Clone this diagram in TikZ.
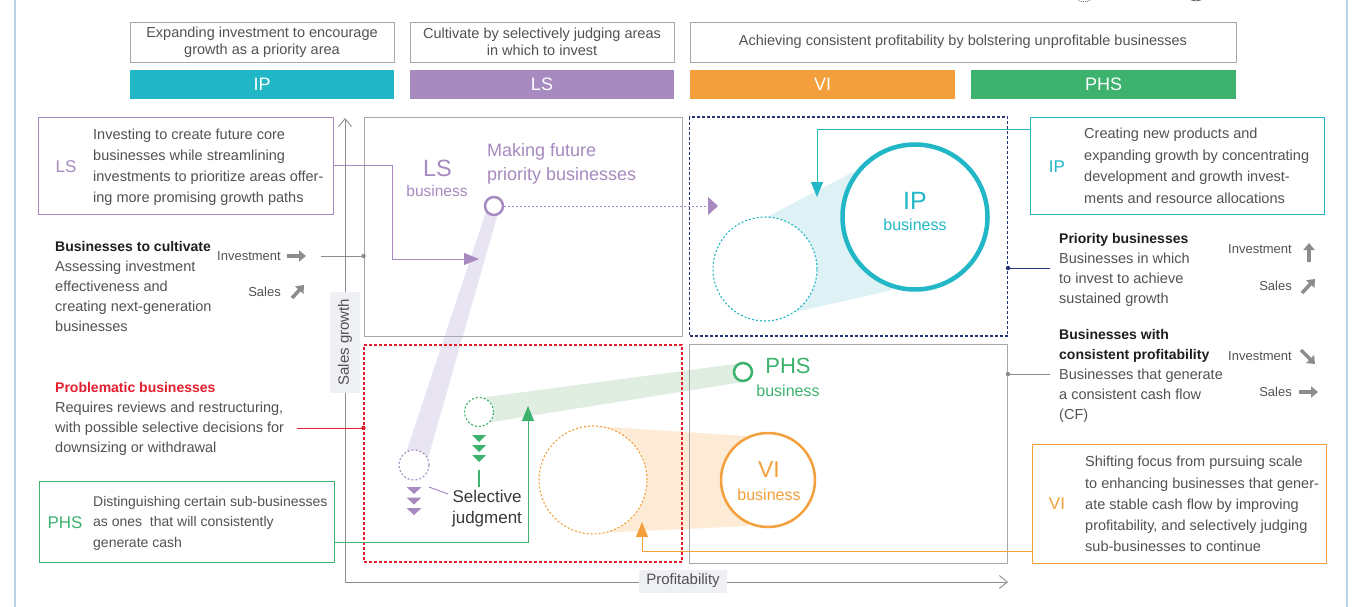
\documentclass[tikz,border=0pt]{standalone}
\usepackage{fontspec}
\setmainfont{Liberation Sans}
\usetikzlibrary{arrows.meta,calc}

\definecolor{ipc}{RGB}{34,183,198}
\definecolor{lsc}{RGB}{166,138,192}
\definecolor{vic}{RGB}{243,160,60}
\definecolor{phsc}{RGB}{60,178,110}
\definecolor{navy}{RGB}{40,52,120}
\definecolor{redc}{RGB}{228,30,45}
\definecolor{framegray}{RGB}{168,168,168}
\definecolor{txtgray}{RGB}{82,82,82}
\definecolor{headblack}{RGB}{30,30,30}
\definecolor{arrgray}{RGB}{140,140,140}
\definecolor{ipband}{RGB}{222,241,244}
\definecolor{lsband}{RGB}{232,228,242}
\definecolor{phsband}{RGB}{223,238,225}
\definecolor{viband}{RGB}{253,235,214}
\definecolor{labelbg}{RGB}{238,240,244}
\definecolor{edgeblue}{RGB}{185,208,232}

\tikzset{
  aimbox/.style={draw=framegray, line width=0.8pt, minimum height=40pt, align=center,
    inner sep=0pt, text=txtgray, font=\fontsize{14.5}{17}\selectfont},
  unitbar/.style={minimum height=29pt, inner sep=0pt, text=white, font=\fontsize{18}{20}\selectfont},
  quad/.style={line width=0.9pt, minimum width=318pt, minimum height=219pt, inner sep=0pt},
  sidebox/.style={line width=0.9pt, inner sep=0pt},
  lettertag/.style={font=\fontsize{17}{20}\selectfont, inner sep=0pt},
  desc/.style={anchor=north west, align=left, inner sep=0pt, text=txtgray,
    font=\fontsize{14.5}{21}\selectfont},
  trendtxt/.style={anchor=east, inner sep=0pt, text=txtgray, font=\fontsize{13}{15}\selectfont},
  trend/.style={draw=arrgray, line width=3.5pt, -{Triangle[length=7pt,width=11pt]}},
  wire/.style={line width=1pt, -{Triangle[length=15pt,width=12pt]}},
  ghost/.style={circle, draw, line width=1.1pt, dash pattern=on 2pt off 2pt, fill=white, inner sep=0pt},
  now/.style={circle, draw, fill=white, inner sep=0pt},
  axislabel/.style={fill=labelbg, text=txtgray, font=\fontsize{15}{17}\selectfont, inner sep=0pt},
  biglbl/.style={inner sep=0pt},
}
\newcommand\headline[2]{{\fontsize{14}{20}\bfseries\color{#1}#2}}

\begin{document}
\begin{tikzpicture}[x=1pt, y=-1pt]
\useasboundingbox (0,0) rectangle (1357,607);
\clip (0,0) rectangle (1357,607);
\fill[white] (0,0) rectangle (1357,607);

% page edges and the legend cut off at the top
\draw[edgeblue, line width=1.5pt] (15,0) -- (15,607) (1347,0) -- (1347,607);
\draw[dash pattern=on 1pt off 1pt] (1084,-8) circle (10pt);
\draw (1196,-11) circle (12pt);

% aims and units
\node[aimbox, minimum width=264pt] (aimip) at (262,42) {Expanding investment to encourage\\growth as a priority area};
\node[aimbox, minimum width=264pt] (aimls) at (542,42) {Cultivate by selectively judging areas\\in which to invest};
\node[aimbox, minimum width=546pt] (aimvp) at (963,42) {Achieving consistent profitability by bolstering unprofitable businesses};
\node[unitbar, fill=ipc, minimum width=264pt] (barip) at (262,84.5) {IP};
\node[unitbar, fill=lsc, minimum width=264pt] (barls) at (542,84.5) {LS};
\node[unitbar, fill=vic, minimum width=265pt] (barvi) at (822.5,84.5) {VI};
\node[unitbar, fill=phsc, minimum width=265pt] (barphs) at (1103.5,84.5) {PHS};

% centres of the business circles
\coordinate (lsnowc) at (494,206);
\coordinate (lsghostc) at (414,465);
\coordinate (phsnowc) at (743,372);
\coordinate (phsghostc) at (479,412);
\coordinate (vibizc) at (768,480);
\coordinate (vighostc) at (593,480);
\coordinate (ipbizc) at (915,217);
\coordinate (ipghostc) at (765,269);

% movement bands
\fill[lsband] ($(lsnowc)+(-6,0)$) -- ($(lsnowc)+(6,0)$) -- ($(lsghostc)+(12,0)$) -- ($(lsghostc)+(-12,0)$) -- cycle;
\fill[phsband] ($(phsghostc)+(0,-14)$) -- ($(phsnowc)+(0,-9)$) -- ($(phsnowc)+(0,10)$) -- ($(phsghostc)+(0,12)$) -- cycle;
\fill[viband] ($(vighostc)+(0,-54)$) -- ($(vibizc)+(-22,-44)$) -- ($(vibizc)+(-20,46)$) -- ($(vighostc)+(5,53)$) -- cycle;
\fill[ipband] ($(ipghostc)+(2,-52)$) -- ($(ipbizc)+(-62,-45)$) -- ($(ipbizc)+(-22,73)$) -- ($(ipghostc)+(30,43)$) -- cycle;

% quadrants
\node[quad, draw=framegray] (qls) at (523,227) {};
\node[quad, draw=navy, line width=1.1pt, dash pattern=on 3pt off 2pt] (qip) at (848.5,226.5) {};
\node[quad, draw=redc, line width=1.1pt, dash pattern=on 3pt off 2pt, minimum height=217pt] (qprob) at (523,453.5) {};
\node[quad, draw=framegray] (qphs) at (848.5,453.5) {};

% axes
\coordinate (origin) at (345,582);
\coordinate (ytop) at (345,118);
\coordinate (xend) at (1008,582);
\draw[arrgray, line width=0.9pt, -{Straight Barb[length=8pt,width=13pt]}] (origin) -- (ytop);
\draw[arrgray, line width=0.9pt, -{Straight Barb[length=8pt,width=13pt]}] (origin) -- (xend);
\node[axislabel, rotate=90, minimum width=101pt, minimum height=30pt] (ylab) at (345,342) {Sales growth};
\node[axislabel, minimum width=88pt, minimum height=23pt] (xlab) at (683,581) {Profitability};

% circles
\node[ghost, draw=lsc, minimum size=30pt] (lsghost) at (lsghostc) {};
\node[now, draw=lsc, line width=2.5pt, minimum size=18pt] (lsnow) at (lsnowc) {};
\node[ghost, draw=phsc, minimum size=29pt] (phsghost) at (phsghostc) {};
\node[now, draw=phsc, line width=2.5pt, minimum size=18pt] (phsnow) at (phsnowc) {};
\node[ghost, draw=vic, minimum size=108pt] (vighost) at (vighostc) {};
\node[now, draw=vic, line width=2.5pt, minimum size=94pt] (vibiz) at (vibizc) {};
\node[ghost, draw=ipc, minimum size=104pt] (ipghost) at (ipghostc) {};
\node[now, draw=ipc, line width=4.5pt, minimum size=145pt] (ipbiz) at (ipbizc) {};

% circle labels
\node[biglbl, text=lsc, font=\fontsize{23.5}{26}\selectfont] (lslbl) at (437.5,168) {LS};
\node[biglbl, text=lsc, font=\fontsize{15.5}{18}\selectfont] (lssub) at (437,191) {business};
\node[biglbl, text=lsc, anchor=west, align=left, font=\fontsize{18}{24}\selectfont] (lsaim) at (487,164) {Making future\\priority businesses};
\node[biglbl, text=ipc, font=\fontsize{25}{28}\selectfont] (iplbl) at (915,201) {IP};
\node[biglbl, text=ipc, font=\fontsize{16}{18}\selectfont] (ipsub) at (915,225) {business};
\node[biglbl, text=phsc, font=\fontsize{22}{25}\selectfont] (phslbl) at (788,366) {PHS};
\node[biglbl, text=phsc, font=\fontsize{16}{18}\selectfont] (phssub) at (788,391) {business};
\node[biglbl, text=vic, font=\fontsize{23}{26}\selectfont] (vilbl) at (769,470) {VI};
\node[biglbl, text=vic, font=\fontsize{16}{18}\selectfont] (visub) at (769,495) {business};

% selective judgment marks
\foreach \k in {0,1,2}
  \fill[lsc] ($(lsghostc)+(-7.5,22+10.5*\k)$) -- ++(15,0) -- ++(-7.5,7) -- cycle;
\foreach \k in {0,1,2}
  \fill[phsc] ($(phsghostc)+(-7,23+10*\k)$) -- ++(14,0) -- ++(-7,7) -- cycle;
\node[biglbl, align=center, text=txtgray!70!black, font=\fontsize{17}{21}\selectfont] (judge) at (487,509) {Selective\\judgment};
\draw[lsc, line width=1pt] ($(lsghostc)+(15,22)$) -- ($(lsghostc)+(34,29)$);
\draw[phsc, line width=1.2pt] ($(phsghostc)+(0,58)$) -- ++(0,17);

% left column
\node[sidebox, draw=lsc, minimum width=295pt, minimum height=97pt] (lsbox) at (185.5,165.5) {};
\node[lettertag, text=lsc] (lstag) at (66,167) {LS};
\node[desc] (lsdesc) at (93,129) {Investing to create future core\\businesses while streamlining\\investments to prioritize areas offer-\\ing more promising growth paths};

\node[desc, font=\fontsize{14.5}{20}\selectfont] (cult) at (55,241) {\headline{headblack}{Businesses to cultivate}\\Assessing investment\\effectiveness and\\creating next-generation\\businesses};
\node[trendtxt] (cinv) at (281,256) {Investment};
\node[trendtxt] (csal) at (281,292) {Sales};
\draw[trend] ([xshift=6pt]cinv.east) -- ++(19,0);
\draw[trend] ([xshift=11pt,yshift=-6pt]csal.east) -- ++(12,-13);

\node[desc, font=\fontsize{14.5}{20}\selectfont] (prob) at (55,382) {\headline{redc}{Problematic businesses}\\Requires reviews and restructuring,\\with possible selective decisions for\\downsizing or withdrawal};

\node[sidebox, draw=phsc, minimum width=295pt, minimum height=81pt] (phsbox) at (186.5,521.5) {};
\node[lettertag, text=phsc] (phstag) at (65,523) {PHS};
\node[desc, font=\fontsize{14}{20.5}\selectfont] (phsdesc) at (93,496) {Distinguishing certain sub-businesses\\as ones\ \ that will consistently\\generate cash};

% right column
\node[sidebox, draw=ipc, minimum width=294pt, minimum height=97pt] (ipbox) at (1177,165.5) {};
\node[lettertag, text=ipc] (iptag) at (1057,167) {IP};
\node[desc, font=\fontsize{14.5}{21.5}\selectfont] (ipdesc) at (1084,128) {Creating new products and\\expanding growth by concentrating\\development and growth invest-\\ments and resource allocations};

\node[desc, font=\fontsize{14.5}{20}\selectfont] (prio) at (1059,233) {\headline{headblack}{Priority businesses}\\Businesses in which\\to invest to achieve\\sustained growth};
\node[trendtxt] (pinv) at (1292,249) {Investment};
\node[trendtxt] (psal) at (1292,286) {Sales};
\draw[trend] ([xshift=17pt,yshift=-13pt]pinv.east) -- ++(0,-19);
\draw[trend] ([xshift=10pt,yshift=-7pt]psal.east) -- ++(13,-14);

\node[desc, font=\fontsize{14.5}{20}\selectfont] (cons) at (1059,329) {\headline{headblack}{Businesses with}\\\headline{headblack}{consistent profitability}\\Businesses that generate\\a consistent cash flow\\(CF)};
\node[trendtxt] (cpinv) at (1292,356) {Investment};
\node[trendtxt] (cpsal) at (1292,392) {Sales};
\draw[trend] ([xshift=9pt,yshift=6pt]cpinv.east) -- ++(14,14);
\draw[trend] ([xshift=7pt]cpsal.east) -- ++(19,0);

\node[sidebox, draw=vic, minimum width=294pt, minimum height=119pt] (vibox) at (1179,503.5) {};
\node[lettertag, text=vic] (vitag) at (1057,504) {VI};
\node[desc, font=\fontsize{14.5}{21.3}\selectfont] (videsc) at (1085,456) {Shifting focus from pursuing scale\\to enhancing businesses that gener-\\ate stable cash flow by improving\\profitability, and selectively judging\\sub-businesses to continue};

% connectors
\coordinate (lshead) at (479,259);
\coordinate (iphead) at (817,197);
\coordinate (phshead) at (528,406);
\coordinate (vihead) at (642,522);
\coordinate (lsaim) at (718,206);
\draw[wire, lsc] (lsbox.east) -| ([xshift=-87pt]lshead) -- (lshead);
\draw[wire, ipc] ([yshift=35.5pt]ipbox.west) -| (iphead);
\draw[wire, phsc] ([yshift=-20.5pt]phsbox.east) -| (phshead);
\draw[wire, vic] ([yshift=-47.5pt]vibox.west) -| (vihead);
\draw[lsc, line width=1pt, dash pattern=on 2pt off 2pt, -{Triangle[length=10pt,width=18pt]}] (lsnow.east) -- (lsaim);

\coordinate (cultfrom) at (321,256);
\coordinate (cultdot) at (qls.west |- 0,256);
\coordinate (probfrom) at (297,428);
\coordinate (probdot) at (qprob.west |- 0,428);
\coordinate (priofrom) at (1050,268);
\coordinate (priodot) at (qip.east |- 0,268);
\coordinate (consfrom) at (1050,374);
\coordinate (consdot) at (qphs.east |- 0,374);
\draw[arrgray, line width=1pt] (cultfrom) -- (cultdot);
\fill[arrgray] (cultdot) circle (2.2pt);
\draw[redc, line width=1pt] (probfrom) -- (probdot);
\fill[redc] (probdot) circle (2.2pt);
\draw[navy, line width=1pt] (priofrom) -- (priodot);
\fill[navy] (priodot) circle (2.2pt);
\draw[arrgray, line width=1pt] (consfrom) -- (consdot);
\fill[arrgray] (consdot) circle (2.2pt);
\end{tikzpicture}
\end{document}
